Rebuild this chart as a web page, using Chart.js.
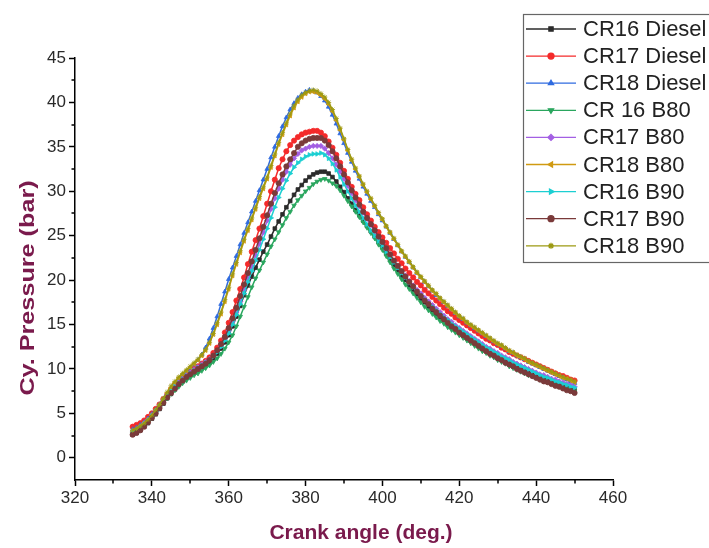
<!DOCTYPE html>
<html>
<head>
<meta charset="utf-8">
<script src="https://cdn.jsdelivr.net/npm/chart.js@4.4.0/dist/chart.umd.min.js"></script>
<style>
  body { margin: 0; background: #fff; }
</style>
</head>
<body>
<canvas id="myChart" width="709" height="548"></canvas>
<script>
// crank angle, one sample per degree
var angles = [];
for (var a = 335; a <= 450; a++) angles.push(a);

var cr16Diesel = [2.6,2.8,3.1,3.5,3.9,4.4,4.9,5.5,6.1,6.7, 7.2,7.7,8.2,8.6,9.0,9.3,9.6,9.9,10.2,10.5,
  10.8,11.2,11.7,12.3,13.0,13.8,14.8,15.9,17.1,18.3, 19.4,20.4,21.4,22.3,23.2,24.0,24.9,25.8,26.6,27.4,
  28.2,28.9,29.6,30.2,30.7,31.2,31.6,31.9,32.1,32.2, 32.2,32.0,31.6,31.1,30.5,29.9,29.2,28.6,27.9,27.3,
  26.7,26.1,25.5,24.9,24.3,23.7,23.0,22.3,21.7,21.1, 20.5,20.0,19.4,18.9,18.4,17.9,17.5,17.0,16.6,16.2,
  15.8,15.5,15.1,14.8,14.4,14.1,13.8,13.5,13.2,12.9, 12.6,12.3,12.1,11.8,11.6,11.3,11.1,10.9,10.6,10.4,
  10.2,10.0,9.8,9.6,9.4,9.2,9.0,8.9,8.7,8.5, 8.4,8.2,8.1,7.9,7.8,7.6];
var cr17Diesel = [3.5,3.7,3.9,4.2,4.6,5.0,5.5,6.0,6.6,7.1, 7.7,8.2,8.6,9.0,9.4,9.7,10.0,10.3,10.6,10.9,
  11.3,11.8,12.4,13.2,14.1,15.2,16.4,17.7,19.0,20.3, 21.8,23.2,24.5,25.8,27.2,28.6,30.0,31.3,32.6,33.6,
  34.5,35.2,35.7,36.1,36.4,36.6,36.7,36.8,36.8,36.6, 36.2,35.6,34.9,34.1,33.2,32.3,31.4,30.5,29.7,29.0,
  28.2,27.4,26.7,26.0,25.4,24.8,24.2,23.6,23.0,22.4, 21.9,21.3,20.8,20.3,19.8,19.4,18.9,18.5,18.1,17.7,
  17.3,16.9,16.5,16.2,15.8,15.5,15.2,14.9,14.6,14.3, 14.0,13.7,13.4,13.2,12.9,12.7,12.4,12.2,11.9,11.7,
  11.5,11.3,11.1,10.9,10.7,10.5,10.3,10.1,9.9,9.7, 9.5,9.3,9.2,9.0,8.8,8.7];
var cr18Diesel = [3.2,3.4,3.7,4.0,4.4,4.9,5.4,6.0,6.6,7.2, 7.8,8.3,8.8,9.3,9.7,10.1,10.5,11.0,11.6,12.4,
  13.4,14.6,15.9,17.3,18.7,20.1,21.4,22.7,24.0,25.3, 26.5,27.7,28.9,30.1,31.3,32.5,33.8,35.0,36.2,37.3,
  38.3,39.2,39.9,40.5,40.9,41.2,41.4,41.3,41.1,40.7, 40.2,39.5,38.6,37.6,36.5,35.4,34.3,33.3,32.3,31.4,
  30.5,29.7,28.9,28.2,27.4,26.7,26.0,25.3,24.6,23.9, 23.2,22.6,22.0,21.4,20.8,20.3,19.8,19.3,18.8,18.3,
  17.9,17.5,17.1,16.7,16.3,15.9,15.6,15.2,14.9,14.6, 14.3,14.0,13.7,13.4,13.1,12.8,12.6,12.3,12.0,11.8,
  11.5,11.3,11.1,10.8,10.6,10.4,10.2,10.0,9.8,9.6, 9.4,9.2,9.0,8.8,8.6,8.4];
var cr16B80 = [2.7,2.9,3.2,3.6,4.0,4.5,5.0,5.6,6.2,6.7, 7.2,7.6,8.0,8.4,8.7,9.0,9.3,9.5,9.8,10.1,
  10.4,10.8,11.2,11.7,12.3,13.0,13.8,14.8,15.9,17.0, 18.1,19.2,20.2,21.1,22.0,22.9,23.8,24.6,25.4,26.2,
  27.0,27.7,28.4,29.0,29.5,30.0,30.4,30.8,31.1,31.3, 31.4,31.2,30.9,30.6,30.1,29.5,28.9,28.3,27.7,27.1,
  26.5,25.9,25.3,24.7,24.0,23.4,22.7,22.0,21.3,20.7, 20.1,19.5,19.0,18.5,18.0,17.5,17.0,16.6,16.2,15.8,
  15.4,15.1,14.7,14.4,14.1,13.8,13.5,13.2,12.9,12.6, 12.3,12.0,11.8,11.5,11.3,11.0,10.8,10.6,10.3,10.1,
  9.9,9.7,9.5,9.3,9.2,9.0,8.8,8.7,8.5,8.4, 8.2,8.0,7.9,7.8,7.6,7.5];
var cr17B80 = [3.0,3.2,3.5,3.9,4.3,4.8,5.3,5.9,6.5,7.1, 7.6,8.1,8.5,8.9,9.3,9.6,9.9,10.2,10.5,10.8,
  11.1,11.5,12.0,12.6,13.4,14.3,15.3,16.4,17.6,18.9, 20.2,21.5,22.8,24.1,25.4,26.7,28.0,29.2,30.3,31.3,
  32.2,33.0,33.7,34.2,34.6,34.8,35.0,35.1,35.1,35.1, 34.8,34.3,33.7,33.0,32.2,31.4,30.6,29.8,29.0,28.3,
  27.6,26.9,26.2,25.5,24.8,24.1,23.4,22.8,22.2,21.6, 21.0,20.5,19.9,19.4,18.9,18.5,18.0,17.6,17.2,16.8,
  16.4,16.0,15.6,15.3,14.9,14.6,14.3,14.0,13.7,13.4, 13.1,12.8,12.5,12.3,12.0,11.8,11.5,11.3,11.1,10.8,
  10.6,10.4,10.2,10.0,9.8,9.6,9.4,9.3,9.1,8.9, 8.8,8.6,8.5,8.3,8.2,8.0];
var cr18B80 = [3.0,3.2,3.5,3.8,4.2,4.7,5.3,5.9,6.6,7.3, 7.9,8.5,9.0,9.4,9.8,10.2,10.6,11.0,11.5,12.1,
  12.9,13.9,15.0,16.2,17.6,19.0,20.5,21.8,23.1,24.4, 25.6,26.8,28.0,29.2,30.3,31.4,32.7,34.0,35.3,36.4,
  37.5,38.5,39.4,40.1,40.6,41.0,41.2,41.2,41.1,40.8, 40.4,39.8,39.0,38.0,36.9,35.8,34.6,33.5,32.5,31.6,
  30.7,29.9,29.1,28.3,27.5,26.8,26.0,25.3,24.6,23.9, 23.2,22.6,22.0,21.4,20.8,20.3,19.8,19.3,18.8,18.4,
  17.9,17.5,17.1,16.7,16.3,15.9,15.6,15.2,14.9,14.6, 14.3,14.0,13.7,13.4,13.1,12.8,12.6,12.3,12.0,11.8,
  11.5,11.3,11.1,10.8,10.6,10.4,10.2,10.0,9.8,9.6, 9.4,9.2,9.0,8.9,8.7,8.5];
var cr16B90 = [2.9,3.1,3.4,3.8,4.2,4.7,5.2,5.8,6.4,7.0, 7.5,8.0,8.4,8.8,9.2,9.5,9.8,10.1,10.4,10.7,
  11.0,11.4,11.9,12.5,13.2,14.0,15.0,16.1,17.3,18.5, 19.8,21.0,22.2,23.4,24.6,25.8,27.0,28.2,29.3,30.3,
  31.2,32.0,32.7,33.2,33.6,33.9,34.1,34.2,34.2,34.3, 34.1,33.7,33.1,32.4,31.6,30.8,30.0,29.2,28.4,27.7,
  27.0,26.3,25.6,25.0,24.4,23.9,23.2,22.6,22.0,21.4, 20.8,20.3,19.7,19.2,18.7,18.3,17.8,17.4,17.0,16.6,
  16.2,15.8,15.5,15.1,14.8,14.5,14.2,13.9,13.6,13.3, 13.0,12.7,12.4,12.2,11.9,11.7,11.4,11.2,11.0,10.7,
  10.5,10.3,10.1,9.9,9.7,9.5,9.3,9.1,9.0,8.8, 8.6,8.5,8.3,8.2,8.0,7.9];
var cr17B90 = [2.6,2.8,3.1,3.5,4.0,4.5,5.0,5.6,6.2,6.8, 7.3,7.8,8.3,8.7,9.1,9.4,9.7,10.0,10.3,10.6,
  11.0,11.5,12.1,12.8,13.6,14.6,15.7,16.9,18.2,19.5, 20.8,22.1,23.4,24.7,26.0,27.3,28.6,29.8,30.9,31.9,
  32.8,33.6,34.3,35.0,35.4,35.7,35.9,36.0,36.0,36.0, 35.7,35.2,34.5,33.7,32.8,31.9,31.0,30.1,29.3,28.5,
  27.7,27.0,26.3,25.6,24.9,24.3,23.6,22.9,22.2,21.6, 21.0,20.4,19.8,19.3,18.7,18.2,17.7,17.3,16.8,16.4,
  16.0,15.6,15.2,14.8,14.5,14.1,13.8,13.5,13.2,12.9, 12.6,12.3,12.0,11.7,11.5,11.2,11.0,10.7,10.5,10.3,
  10.0,9.8,9.6,9.4,9.2,9.0,8.8,8.6,8.5,8.3, 8.1,8.0,7.8,7.6,7.5,7.3];
var cr18B90 = [3.1,3.3,3.6,3.9,4.3,4.8,5.4,6.0,6.7,7.4, 8.1,8.6,9.1,9.5,9.9,10.3,10.7,11.1,11.6,12.2,
  13.0,14.0,15.2,16.4,17.8,19.2,20.7,22.0,23.3,24.6, 25.8,27.0,28.2,29.4,30.5,31.6,32.9,34.2,35.5,36.6,
  37.7,38.7,39.6,40.3,40.8,41.1,41.3,41.4,41.3,41.0, 40.6,40.0,39.2,38.2,37.1,35.9,34.7,33.6,32.6,31.7,
  30.8,30.0,29.2,28.4,27.6,26.9,26.1,25.4,24.7,24.0, 23.3,22.7,22.1,21.5,20.9,20.4,19.9,19.4,18.9,18.5,
  18.0,17.6,17.2,16.8,16.4,16.0,15.7,15.3,15.0,14.7, 14.4,14.1,13.8,13.5,13.2,12.9,12.7,12.4,12.1,11.9,
  11.6,11.4,11.2,10.9,10.7,10.5,10.3,10.1,9.9,9.7, 9.5,9.3,9.1,8.9,8.8,8.6];

var seriesNames = ['CR16 Diesel', 'CR17 Diesel', 'CR18 Diesel', 'CR 16 B80', 'CR17 B80', 'CR18 B80', 'CR16 B90', 'CR17 B90', 'CR18 B90'];
var seriesValues = [cr16Diesel, cr17Diesel, cr18Diesel, cr16B80, cr17B80, cr18B80, cr16B90, cr17B90, cr18B90];
var colors = ['#2b2b2b', '#f42a2a', '#2f6be0', '#2aa65e', '#a35fe3', '#d09a12', '#1ccfd2', '#7a3a3a', '#9c9a12'];
var styles = ['rect', 'circle', 'triangle', 'triangle', 'rectRot', 'triangle', 'triangle', 'circle', 'star'];
var rotations = [0, 0, 0, 180, 0, 270, 90, 0, 0];

var yTicks = [0, 5, 10, 15, 20, 25, 30, 35, 40, 45];
var yMinor = [2.5, 7.5, 12.5, 17.5, 22.5, 27.5, 32.5, 37.5, 42.5];
var xMinor = [330, 350, 370, 390, 410, 430, 450];

var datasets = seriesValues.map(function(vals, i) {
  return {
    label: seriesNames[i],
    data: angles.map(function(x, j) { return {x: x, y: vals[j]}; }),
    borderColor: colors[i],
    backgroundColor: colors[i],
    borderWidth: 1.5,
    pointStyle: styles[i],
    pointRotation: rotations[i],
    pointRadius: 2.6,
    pointBorderWidth: 0.8,
    order: 9 - i
  };
});

var titleColor = '#7a1a4c';
var fontName = '"Liberation Sans", Arial, sans-serif';

// minor ticks + axis titles, Origin style
var extras = {
  id: 'extras',
  afterDraw: function(chart) {
    var ctx = chart.ctx, xs = chart.scales.x, ys = chart.scales.y;
    ctx.save();
    ctx.strokeStyle = '#000';
    ctx.lineWidth = 1.5;
    ctx.beginPath();
    xMinor.forEach(function(v) {
      var px = Math.round(xs.getPixelForValue(v));
      ctx.moveTo(px, xs.top); ctx.lineTo(px, xs.top + 3.5);
    });
    yMinor.forEach(function(v) {
      var py = Math.round(ys.getPixelForValue(v));
      ctx.moveTo(ys.right, py); ctx.lineTo(ys.right - 3.5, py);
    });
    ctx.stroke();

    ctx.fillStyle = titleColor;
    ctx.font = 'bold 21px ' + fontName;
    ctx.textAlign = 'center';
    ctx.textBaseline = 'middle';
    ctx.fillText('Crank angle (deg.)', 361, 533);
    ctx.translate(28, 288);
    ctx.rotate(-Math.PI / 2);
    ctx.scale(1.2, 1);
    ctx.fillText('Cy. Pressure (bar)', 0, 0);
    ctx.restore();
  }
};

var boxLegend = {
  id: 'boxLegend',
  afterDraw: function(chart) {
    var ctx = chart.ctx;
    ctx.save();
    ctx.fillStyle = '#fff';
    ctx.fillRect(523, 14, 200, 248);
    ctx.strokeStyle = '#666';
    ctx.lineWidth = 1.2;
    ctx.strokeRect(523.5, 14.5, 200, 248);
    ctx.font = '22px ' + fontName;
    ctx.textBaseline = 'middle';
    seriesNames.forEach(function(name, i) {
      var y = 29 + i * 27.1;
      ctx.strokeStyle = colors[i];
      ctx.lineWidth = 1.3;
      ctx.beginPath(); ctx.moveTo(526, y); ctx.lineTo(576, y); ctx.stroke();
      ctx.fillStyle = colors[i];
      Chart.helpers.drawPoint(ctx, {pointStyle: styles[i], radius: 3, rotation: rotations[i], borderWidth: 0.6}, 551, y);
      ctx.fillStyle = '#222';
      ctx.fillText(name, 583, y + 1);
    });
    ctx.restore();
  }
};

var tickFont = {family: fontName, size: 17};

new Chart(document.getElementById('myChart'), {
  type: 'line',
  data: {datasets: datasets},
  options: {
    responsive: false,
    animation: false,
    devicePixelRatio: 1,
    layout: {padding: {left: 0, right: 96, top: 58, bottom: 0}},
    plugins: {legend: {display: false}, tooltip: {enabled: false}},
    scales: {
      x: {
        type: 'linear', min: 320, max: 460,
        ticks: {stepSize: 20, font: tickFont, color: '#2a2a2a', padding: 2, maxRotation: 0},
        grid: {drawOnChartArea: false, tickLength: 6, tickColor: '#000', tickWidth: 1.5},
        border: {color: '#000', width: 1.5},
        afterFit: function(s) { s.height = 68; }
      },
      y: {
        min: -2.5, max: 45,
        afterBuildTicks: function(s) { s.ticks = yTicks.map(function(v) { return {value: v}; }); },
        ticks: {font: tickFont, color: '#2a2a2a', padding: 3},
        grid: {drawOnChartArea: false, tickLength: 6, tickColor: '#000', tickWidth: 1.5},
        border: {color: '#000', width: 1.5},
        afterFit: function(s) { s.width = 75; }
      }
    }
  },
  plugins: [extras, boxLegend]
});
</script>
</body>
</html>
